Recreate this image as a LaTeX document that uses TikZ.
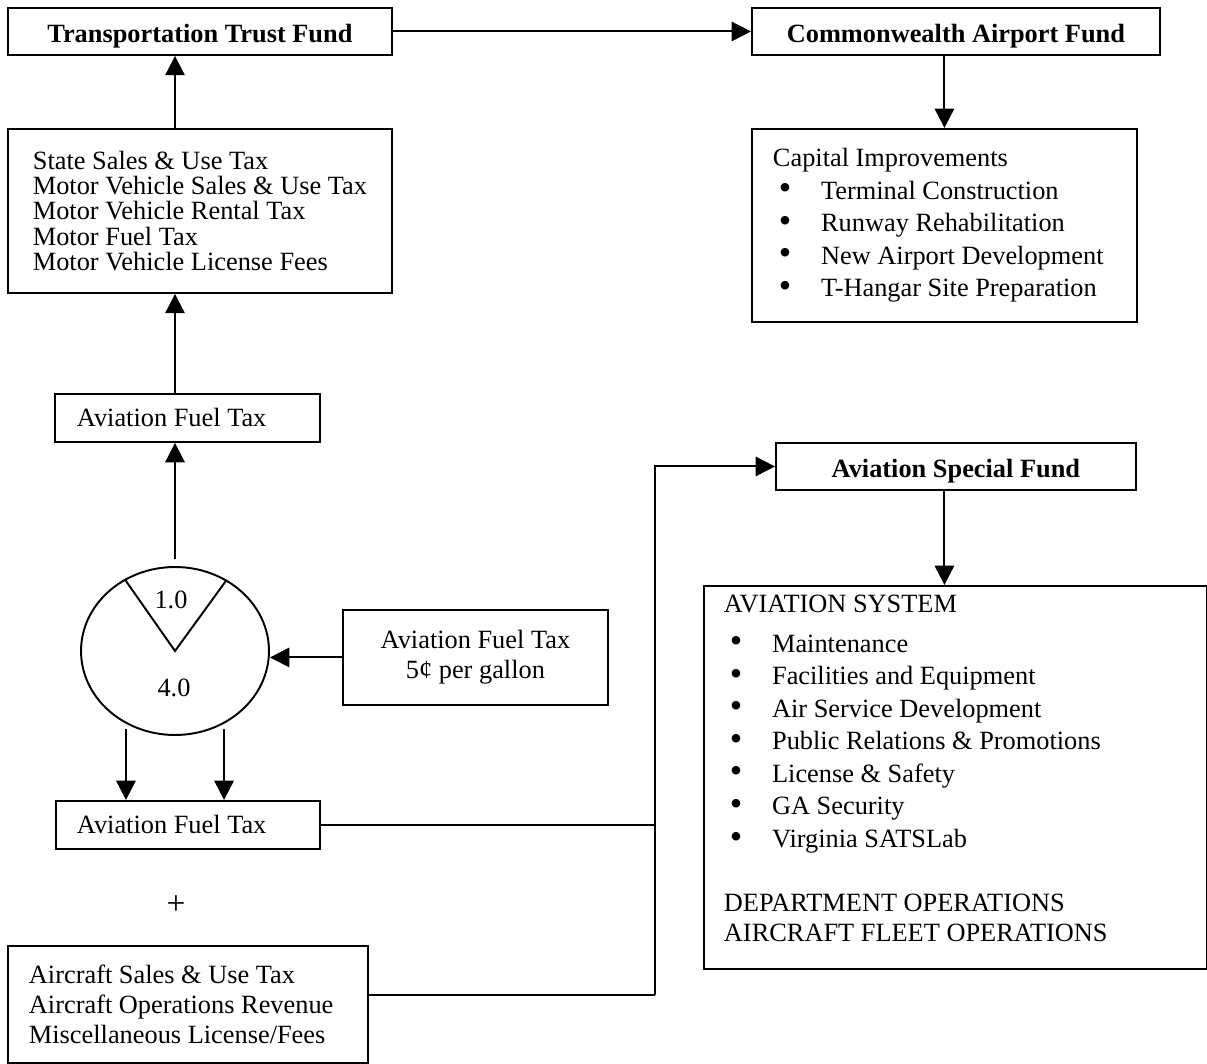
\documentclass[tikz,border=0pt]{standalone}
\usepackage{fontspec}
\usepackage{graphicx}
\setmainfont{Liberation Serif}
\usetikzlibrary{arrows.meta,shapes.geometric}
\newcommand{\bitem}[1]{\hspace*{3.4pt}\makebox[24pt][l]{\raisebox{-0.3pt}{\scalebox{1.35}{\textbullet}}}#1}

\begin{document}
\begin{tikzpicture}[x=0.02cm, y=-0.02cm, font=\fontsize{15}{17}\selectfont,
    box/.style={draw, line width=1.1pt, inner sep=0pt, anchor=north west},
    head/.style={box, font=\fontsize{15}{17}\selectfont\bfseries, text height=12.9pt, text depth=0pt},
    list/.style={box, align=flush left, inner xsep=0.42cm},
    bullets/.style={list, font=\fontsize{15}{18.5}\selectfont},
    arr/.style={line width=1.1pt, -{Triangle[length=11pt,width=11pt]}}]
    \useasboundingbox (0,0) rectangle (1207,1064);

    % funds
    \node[head, minimum width=7.68cm, minimum height=0.94cm] (ttf) at (7,7) {Transportation Trust Fund};
    \node[head, minimum width=8.16cm, minimum height=0.94cm] (caf) at (751,7) {Commonwealth Airport Fund};
    \node[head, minimum width=7.20cm, minimum height=0.94cm] (asf) at (775,442) {Aviation Special Fund};

    % left column
    \node[box, align=left, font=\fontsize{15}{14.3}\selectfont, minimum width=7.68cm, minimum height=3.28cm] (src) at (7,128)
        {State Sales \& Use Tax\\ Motor Vehicle Sales \& Use Tax\\ Motor Vehicle Rental Tax\\ Motor Fuel Tax\\ Motor Vehicle License Fees};
    \node[list, inner xsep=0.44cm, text width=4.42cm, minimum height=0.96cm] (aft1) at (54,393) {Aviation Fuel Tax};
    \node[draw, ellipse, line width=1.1pt, inner sep=0pt, minimum width=3.76cm, minimum height=3.36cm] (split) at (175,651) {};
    \draw[line width=1.1pt] (split.125) -- (split.center) -- (split.54);
    \node (upper) at (171,600) {1.0};
    \node (lower) at (174,688) {4.0};
    \node[box, align=center, minimum width=5.30cm, minimum height=1.90cm] (fuel) at (342,609) {Aviation Fuel Tax\\ 5¢ per gallon};
    \node[list, text width=4.44cm, minimum height=0.96cm] (aft2) at (55,800) {Aviation Fuel Tax};
    \node[font=\fontsize{19}{20}\selectfont] (plus) at (176,905) {+};
    \node[list, text width=6.36cm, minimum height=2.34cm] (misc) at (7,945)
        {Aircraft Sales \& Use Tax\\ Aircraft Operations Revenue\\ Miscellaneous License/Fees};

    % right column
    \node[bullets, text width=6.86cm, minimum height=3.86cm] (cap) at (751,128)
        {Capital Improvements\\ \bitem{Terminal Construction}\\ \bitem{Runway Rehabilitation}\\
         \bitem{New Airport Development}\\ \bitem{T-Hangar Site Preparation}};
    \node[bullets, inner xsep=0.40cm, text width=9.26cm, minimum height=7.66cm] (sys) at (703,585)
        {AVIATION SYSTEM\\[4pt] \bitem{Maintenance}\\ \bitem{Facilities and Equipment}\\ \bitem{Air Service Development}\\
         \bitem{Public Relations \& Promotions}\\ \bitem{License \& Safety}\\ \bitem{GA Security}\\ \bitem{Virginia SATSLab}\\[17.9pt]
         DEPARTMENT OPERATIONS\\[-1.4pt] AIRCRAFT FLEET OPERATIONS\\[-8.3pt]\mbox{}};

    \coordinate (bus) at (655,995);

    % connectors
    \draw[arr] (ttf) -- (caf);
    \draw[arr] (caf.south -| cap.north) -- (cap.north);
    \draw[arr] (split.north |- src.north) -- (split.north |- ttf.south);
    \draw[arr] (split.north |- aft1.north) -- (split.north |- src.south);
    \draw[arr, shorten <=0.14cm] (split.north) -- (split.north |- aft1.south);
    \draw[arr] (fuel.west) -- (fuel.west -| split.east);
    \draw[arr, shorten <=0.1cm] (split.236) -- (split.236 |- aft2.north);
    \draw[arr, shorten <=0.1cm] (split.304) -- (split.304 |- aft2.north);
    \draw[line width=1.1pt] (aft2.east) -- (aft2.east -| bus);
    \draw[line width=1.1pt] (misc.east |- bus) -- (bus);
    \draw[arr] (bus) -- (bus |- asf.west) -- (asf.west);
    \draw[arr] (asf.south -| cap.north) -- (sys.north -| cap.north);
\end{tikzpicture}
\end{document}
